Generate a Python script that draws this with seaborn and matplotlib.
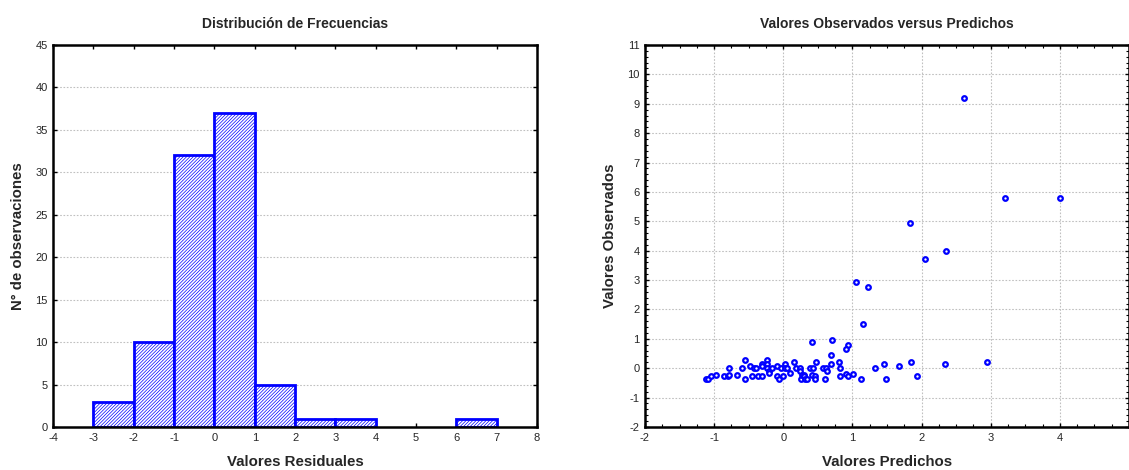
# -*- coding: utf-8 -*-
"""
Residual histogram and observed vs predicted scatter, side by side.
"""

import numpy as np
import seaborn as sns
from matplotlib import pyplot as plt
from matplotlib.ticker import MultipleLocator

# histogram of residuals
bin_edges = list(range(-4, 9))
bin_mids = [-2.5, -1.5, -0.5, 0.5, 1.5, 2.5, 3.5, 6.5]
bin_counts = [3, 10, 32, 37, 5, 1, 1, 1]

# predicted vs observed
predichos = [
    2.61, 3.20, 4.00, 1.83, 2.36, 2.05, 1.05, 1.22,
    1.16, 0.41, 0.71, 0.93, 0.90, 0.69, 0.69, 0.80, 0.82, 0.82, 0.91, 0.94,
    1.01, 1.13, 1.32, 1.46, 1.48, 1.68, 1.84, 1.93, 2.34, 2.95,
    -1.12, -1.09, -1.05, -0.97, -0.86, -0.80, -0.78, -0.78, -0.67, -0.59,
    -0.56, -0.56, -0.48, -0.45, -0.42, -0.39, -0.37, -0.31, -0.31, -0.31,
    -0.23, -0.23, -0.23, -0.20, -0.20, -0.17, -0.09, -0.09, -0.06, -0.03,
    0.00, 0.02, 0.02, 0.05, 0.10, 0.16, 0.19, 0.24, 0.24, 0.25,
    0.27, 0.30, 0.30, 0.32, 0.35, 0.38, 0.41, 0.43, 0.46, 0.46,
    0.47, 0.57, 0.60, 0.62, 0.63,
]
observados = [
    9.20, 5.80, 5.80, 4.94, 3.99, 3.71, 2.92, 2.78,
    1.52, 0.88, 0.95, 0.80, 0.65, 0.44, 0.15, 0.22, 0.01, -0.27, -0.20, -0.27,
    -0.20, -0.35, 0.01, 0.15, -0.35, 0.08, 0.22, -0.27, 0.15, 0.22,
    -0.35, -0.35, -0.28, -0.22, -0.28, -0.28, -0.22, 0.00, -0.22, 0.00,
    0.28, -0.36, 0.07, -0.28, 0.00, 0.00, -0.28, -0.28, 0.14, 0.07,
    0.28, 0.14, 0.00, -0.08, -0.15, 0.00, 0.07, -0.28, -0.36, 0.00,
    -0.28, 0.14, 0.00, 0.00, -0.15, 0.20, 0.00, 0.00, -0.08, -0.36,
    -0.22, -0.22, -0.28, -0.36, -0.36, 0.00, -0.22, 0.00, -0.28, -0.36,
    0.20, 0.00, -0.36, 0.00, -0.08,
]

if __name__ == "__main__":
    sns.set_style("white")
    plt.rcParams["font.family"] = ["Liberation Sans", "DejaVu Sans"]
    plt.rcParams["hatch.linewidth"] = 0.5
    plt.rcParams["axes.unicode_minus"] = False

    fig = plt.figure(figsize=(11.29, 4.70), dpi=100)
    ax1 = fig.add_axes([0.047, 0.0915, 0.4287, 0.8128])
    ax2 = fig.add_axes([0.5713, 0.0915, 0.4287, 0.8128])

    grid_kw = dict(color="#c0c0c0", linestyle=(0, (1.5, 1.5)), linewidth=0.8)
    title_kw = dict(fontsize=10, fontweight="bold", pad=12)
    label_kw = dict(fontsize=10.8, fontweight="bold")

    # left: frequency distribution
    sns.histplot(
        x=bin_mids,
        weights=bin_counts,
        bins=bin_edges,
        ax=ax1,
        alpha=1,
    )
    for p in ax1.patches:
        if p.get_height() == 0:
            p.set_visible(False)
        p.set_facecolor("white")
        p.set_edgecolor("#0000ff")
        p.set_linewidth(2)
        p.set_hatch("//////////")
    ax1.set_xlim(-4, 8)
    ax1.set_ylim(0, 45)
    ax1.xaxis.set_major_locator(MultipleLocator(1))
    ax1.yaxis.set_major_locator(MultipleLocator(5))
    ax1.yaxis.grid(True, **grid_kw)
    ax1.set_axisbelow(True)
    ax1.set_title("Distribución de Frecuencias", **title_kw)
    ax1.set_xlabel("Valores Residuales", labelpad=9, **label_kw)
    ax1.set_ylabel("N° de observaciones", labelpad=7, **label_kw)

    # right: observed vs predicted
    sns.scatterplot(
        x=predichos,
        y=observados,
        ax=ax2,
        s=11,
        facecolor="white",
        edgecolor="#0000ff",
        linewidth=1.6,
        zorder=3,
    )
    ax2.set_xlim(-2, 5)
    ax2.set_ylim(-2, 11)
    ax2.set_xticks(range(-2, 5))
    ax2.xaxis.set_minor_locator(MultipleLocator(0.25))
    ax2.yaxis.set_major_locator(MultipleLocator(1))
    ax2.yaxis.set_minor_locator(MultipleLocator(0.2))
    ax2.grid(True, **grid_kw)
    ax2.set_axisbelow(True)
    ax2.set_title("Valores Observados versus Predichos", **title_kw)
    ax2.set_xlabel("Valores Predichos", labelpad=9, **label_kw)
    ax2.set_ylabel("Valores Observados", labelpad=7, **label_kw)

    for ax in (ax1, ax2):
        for s in ax.spines.values():
            s.set_visible(True)
            s.set_color("black")
            s.set_linewidth(1.8)
        ax.tick_params(which="both", direction="in", top=True, right=True,
                       bottom=True, left=True, color="black", labelsize=8,
                       pad=4)
        ax.tick_params(which="major", length=3, width=1)
        ax.tick_params(which="minor", length=2, width=0.8)

    fig.savefig("out.png", dpi=100)
